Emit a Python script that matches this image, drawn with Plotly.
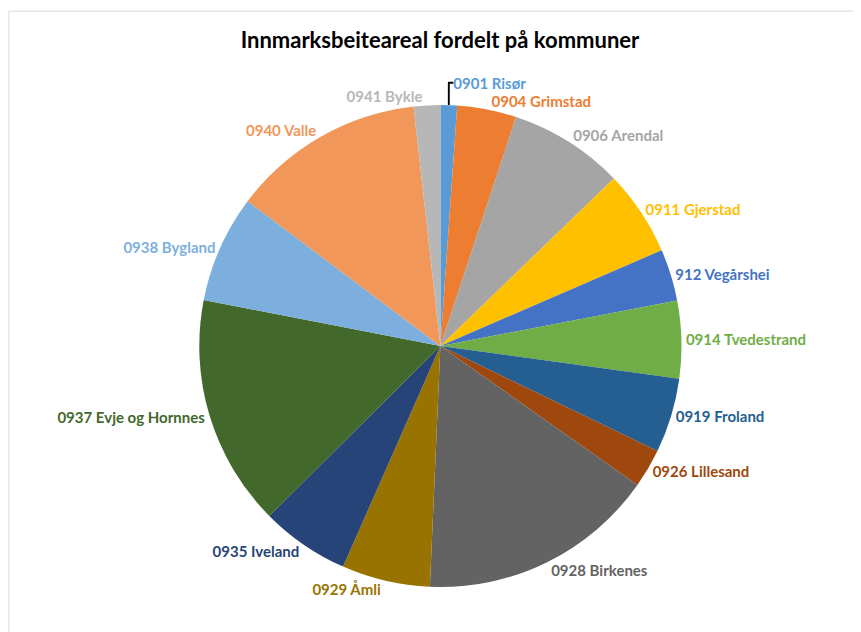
import plotly.graph_objects as go

kommuner = ["0901 Risør", "0904 Grimstad", "0906 Arendal", "0911 Gjerstad", "912 Vegårshei",
            "0914 Tvedestrand", "0919 Froland", "0926 Lillesand", "0928 Birkenes", "0929 Åmli",
            "0935 Iveland", "0937 Evje og Hornnes", "0938 Bygland", "0940 Valle", "0941 Bykle"]
areal = [4.0, 14.3, 27.7, 20.6, 12.5, 18.7, 18.0, 9.4, 57.3, 21.3, 21.4, 55.8, 25.9, 46.7, 6.4]
farger = ["#5B9BD5", "#ED7D31", "#A5A5A5", "#FFC000", "#4472C4", "#70AD47", "#255E91", "#9E480E",
          "#636363", "#997300", "#264478", "#43682B", "#7CAFDD", "#F1975A", "#B7B7B7"]

fig = go.Figure(go.Pie(
    labels=kommuner,
    values=areal,
    sort=False,
    direction="clockwise",
    rotation=0,
    marker=dict(colors=farger, line=dict(width=0)),
    textinfo="label",
    textposition="outside",
    outsidetextfont=dict(family="Lato", size=15, color=farger),
    texttemplate="<b>%{label}</b>",
    domain=dict(x=[0.2217, 0.7827], y=[0.0837, 0.8467]),
    showlegend=False,
))

fig.update_layout(
    width=861, height=632,
    margin=dict(l=0, r=0, t=0, b=0),
    paper_bgcolor="white",
    title=dict(text="<b>Innmarksbeiteareal fordelt på kommuner</b>", x=0.5017, y=0.949,
               xanchor="center", yanchor="middle",
               font=dict(family="Lato", size=22, color="black")),
    shapes=[dict(type="rect", xref="paper", yref="paper", x0=0.001, x1=1.2, y0=-0.2, y1=0.995,
                 line=dict(color="#D9D9D9", width=1))],
)

fig.write_html("out.html")
